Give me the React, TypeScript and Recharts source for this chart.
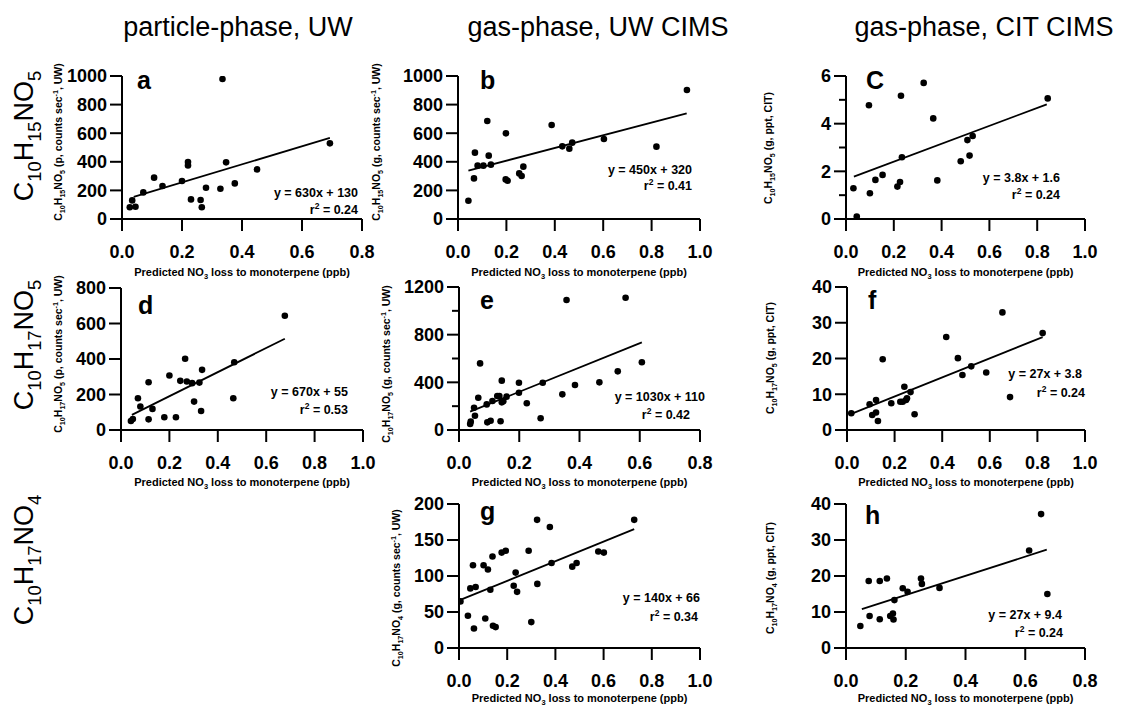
import React from 'react';
import { ScatterChart, Scatter, XAxis, YAxis, ReferenceLine } from 'recharts';

const FONT = '"Liberation Sans", Arial, Helvetica, sans-serif';

// ---------- data ----------
const pointsA = [
  { x: 0.026, y: 82 }, { x: 0.034, y: 130 }, { x: 0.045, y: 86 }, { x: 0.071, y: 186 },
  { x: 0.107, y: 289 }, { x: 0.135, y: 231 }, { x: 0.2, y: 266 }, { x: 0.22, y: 399 },
  { x: 0.22, y: 375 }, { x: 0.23, y: 137 }, { x: 0.262, y: 133 }, { x: 0.266, y: 82 },
  { x: 0.28, y: 219 }, { x: 0.328, y: 212 }, { x: 0.335, y: 979 }, { x: 0.347, y: 396 },
  { x: 0.376, y: 249 }, { x: 0.45, y: 347 }, { x: 0.693, y: 529 },
];
const fitA = [{ x: 0.039, y: 155 }, { x: 0.693, y: 567 }];

const pointsB = [
  { x: 0.043, y: 128 }, { x: 0.066, y: 284 }, { x: 0.07, y: 464 }, { x: 0.081, y: 373 },
  { x: 0.105, y: 373 }, { x: 0.121, y: 685 }, { x: 0.127, y: 443 }, { x: 0.136, y: 380 },
  { x: 0.198, y: 599 }, { x: 0.197, y: 277 }, { x: 0.205, y: 268 }, { x: 0.253, y: 319 },
  { x: 0.263, y: 301 }, { x: 0.27, y: 366 }, { x: 0.387, y: 657 }, { x: 0.431, y: 508 },
  { x: 0.46, y: 492 }, { x: 0.472, y: 534 }, { x: 0.603, y: 559 }, { x: 0.82, y: 506 },
  { x: 0.946, y: 902 },
];
const fitB = [{ x: 0.043, y: 338 }, { x: 0.945, y: 739 }];

const pointsC = [
  { x: 0.031, y: 1.29 }, { x: 0.045, y: 0.1 }, { x: 0.096, y: 4.77 }, { x: 0.1, y: 1.08 },
  { x: 0.123, y: 1.64 }, { x: 0.153, y: 1.85 }, { x: 0.215, y: 1.36 }, { x: 0.226, y: 1.55 },
  { x: 0.23, y: 5.17 }, { x: 0.234, y: 2.59 }, { x: 0.325, y: 5.71 }, { x: 0.365, y: 4.22 },
  { x: 0.382, y: 1.62 }, { x: 0.48, y: 2.42 }, { x: 0.508, y: 3.31 }, { x: 0.517, y: 2.66 },
  { x: 0.53, y: 3.48 }, { x: 0.844, y: 5.06 },
];
const fitC = [{ x: 0.033, y: 1.78 }, { x: 0.84, y: 4.81 }];

const pointsD = [
  { x: 0.041, y: 51 }, { x: 0.049, y: 62 }, { x: 0.07, y: 179 }, { x: 0.08, y: 132 },
  { x: 0.114, y: 60 }, { x: 0.114, y: 269 }, { x: 0.13, y: 119 }, { x: 0.179, y: 72 },
  { x: 0.2, y: 307 }, { x: 0.227, y: 72 }, { x: 0.245, y: 277 }, { x: 0.265, y: 401 },
  { x: 0.272, y: 273 }, { x: 0.294, y: 264 }, { x: 0.302, y: 160 }, { x: 0.324, y: 267 },
  { x: 0.331, y: 107 }, { x: 0.335, y: 339 }, { x: 0.464, y: 179 }, { x: 0.468, y: 382 },
  { x: 0.677, y: 644 },
];
const fitD = [{ x: 0.045, y: 85 }, { x: 0.677, y: 514 }];

const pointsE = [
  { x: 0.037, y: 50 }, { x: 0.039, y: 70 }, { x: 0.05, y: 187 }, { x: 0.053, y: 120 },
  { x: 0.064, y: 271 }, { x: 0.07, y: 559 }, { x: 0.092, y: 215 }, { x: 0.094, y: 64 },
  { x: 0.105, y: 78 }, { x: 0.111, y: 243 }, { x: 0.127, y: 285 }, { x: 0.134, y: 285 },
  { x: 0.138, y: 73 }, { x: 0.142, y: 414 }, { x: 0.142, y: 232 }, { x: 0.147, y: 242 },
  { x: 0.158, y: 280 }, { x: 0.199, y: 397 }, { x: 0.199, y: 313 }, { x: 0.225, y: 224 },
  { x: 0.271, y: 98 }, { x: 0.278, y: 397 }, { x: 0.343, y: 299 }, { x: 0.357, y: 1091 },
  { x: 0.385, y: 378 }, { x: 0.466, y: 400 }, { x: 0.527, y: 492 }, { x: 0.553, y: 1110 },
  { x: 0.607, y: 568 },
];
const fitE = [{ x: 0.037, y: 154 }, { x: 0.607, y: 736 }];

const pointsF = [
  { x: 0.018, y: 4.7 }, { x: 0.095, y: 7.2 }, { x: 0.106, y: 4.2 }, { x: 0.122, y: 8.4 },
  { x: 0.122, y: 4.9 }, { x: 0.13, y: 2.5 }, { x: 0.15, y: 19.8 }, { x: 0.186, y: 7.5 },
  { x: 0.224, y: 7.9 }, { x: 0.234, y: 7.9 }, { x: 0.241, y: 12.1 }, { x: 0.248, y: 8.4 },
  { x: 0.252, y: 8.9 }, { x: 0.267, y: 10.6 }, { x: 0.284, y: 4.4 }, { x: 0.417, y: 26.0 },
  { x: 0.466, y: 20.1 }, { x: 0.485, y: 15.4 }, { x: 0.522, y: 17.8 }, { x: 0.585, y: 16.1 },
  { x: 0.653, y: 32.9 }, { x: 0.685, y: 9.2 }, { x: 0.822, y: 27.1 },
];
const fitF = [{ x: 0.018, y: 4.5 }, { x: 0.822, y: 26 }];

const pointsG = [
  { x: 0.006, y: 64.7 }, { x: 0.037, y: 44.7 }, { x: 0.047, y: 82.8 }, { x: 0.058, y: 115 },
  { x: 0.062, y: 27 }, { x: 0.069, y: 84.7 }, { x: 0.102, y: 115 }, { x: 0.109, y: 41 },
  { x: 0.12, y: 109 }, { x: 0.13, y: 81 }, { x: 0.139, y: 127 }, { x: 0.141, y: 31 },
  { x: 0.152, y: 29 }, { x: 0.177, y: 132.5 }, { x: 0.194, y: 135 }, { x: 0.227, y: 86.5 },
  { x: 0.235, y: 104.7 }, { x: 0.241, y: 78 }, { x: 0.289, y: 135 }, { x: 0.3, y: 36 },
  { x: 0.324, y: 178 }, { x: 0.325, y: 89 }, { x: 0.377, y: 168 }, { x: 0.384, y: 118 },
  { x: 0.47, y: 113 }, { x: 0.488, y: 118 }, { x: 0.578, y: 134 }, { x: 0.601, y: 132.5 },
  { x: 0.727, y: 178 },
];
const fitG = [{ x: 0.003, y: 66.5 }, { x: 0.727, y: 165 }];

const pointsH = [
  { x: 0.048, y: 6.1 }, { x: 0.076, y: 18.6 }, { x: 0.079, y: 8.9 }, { x: 0.113, y: 18.6 },
  { x: 0.113, y: 8.0 }, { x: 0.137, y: 19.3 }, { x: 0.148, y: 8.9 }, { x: 0.157, y: 9.6 },
  { x: 0.159, y: 7.9 }, { x: 0.162, y: 13.3 }, { x: 0.19, y: 16.6 }, { x: 0.206, y: 15.6 },
  { x: 0.251, y: 19.3 }, { x: 0.254, y: 17.8 }, { x: 0.313, y: 16.7 }, { x: 0.613, y: 27.1 },
  { x: 0.653, y: 37.2 }, { x: 0.674, y: 15.0 },
];
const fitH = [{ x: 0.053, y: 10.8 }, { x: 0.672, y: 27.3 }];

const xTicks08 = [0, 0.2, 0.4, 0.6, 0.8];
const xTicks10 = [0, 0.2, 0.4, 0.6, 0.8, 1.0];
const yTicks1000 = [0, 200, 400, 600, 800, 1000];
const yTicks6 = [0, 1, 2, 3, 4, 5, 6];
const yMajor6 = [0, 2, 4, 6];
const yTicks800 = [0, 200, 400, 600, 800];
const yTicks1200 = [0, 200, 400, 600, 800, 1000, 1200];
const yMajor1200 = [0, 400, 800, 1200];
const yTicks40 = [0, 10, 20, 30, 40];
const yTicks200 = [0, 50, 100, 150, 200];

const columnTitles = ['particle-phase, UW', 'gas-phase, UW CIMS', 'gas-phase, CIT CIMS'];

type Seg = [string, number]; // 0 normal, 1 subscript, -1 superscript

const formula = (h: string, o: string): Seg[] => [
  ['C', 0], ['10', 1], ['H', 0], [h, 1], ['NO', 0], [o, 1],
];
const yLabel = (h: string, o: string, rest: string): Seg[] => {
  const f = formula(h, o);
  if (rest.includes('sec')) {
    const [pre, post] = rest.split('sec');
    return [...f, [' ' + pre + 'sec', 0], ['-1', -1], [post, 0]];
  }
  return [...f, [' ' + rest, 0]];
};

// ---------- layout ----------
interface Panel {
  id: string; L: number; R: number; T: number; B: number;
  xMax: number; xTicks: number[]; yMax: number; yTicks: number[]; yMajor: number[];
  points: { x: number; y: number }[]; fit: { x: number; y: number }[];
  letter: string; lx: number; ly: number;
  eq: string; eqX: number; eqY: number; r2: string; r2X: number; r2Y: number;
  ylab: Seg[]; ylx: number; yly: number;
}

const panels: Panel[] = [
  { id: 'a', L: 122, R: 362, T: 76, B: 219, xMax: 0.8, xTicks: xTicks08, yMax: 1000, yTicks: yTicks1000, yMajor: yTicks1000, points: pointsA, fit: fitA,
    letter: 'a', lx: 137, ly: 89, eq: 'y = 630x + 130', eqX: 358, eqY: 197, r2: '0.24', r2X: 358, r2Y: 214,
    ylab: yLabel('15', '5', '(p, counts sec, UW)'), ylx: 62, yly: 142 },
  { id: 'b', L: 458, R: 700, T: 76, B: 219, xMax: 1.0, xTicks: xTicks10, yMax: 1000, yTicks: yTicks1000, yMajor: yTicks1000, points: pointsB, fit: fitB,
    letter: 'b', lx: 480, ly: 89, eq: 'y = 450x + 320', eqX: 692, eqY: 174, r2: '0.41', r2X: 692, r2Y: 190,
    ylab: yLabel('15', '5', '(g, counts sec, UW)'), ylx: 380, yly: 142 },
  { id: 'c', L: 846, R: 1085, T: 76, B: 219, xMax: 1.0, xTicks: xTicks10, yMax: 6, yTicks: yTicks6, yMajor: yMajor6, points: pointsC, fit: fitC,
    letter: 'C', lx: 866, ly: 89, eq: 'y = 3.8x + 1.6', eqX: 1060, eqY: 182, r2: '0.24', r2X: 1060, r2Y: 199,
    ylab: yLabel('15', '5', '(g, ppt, CIT)'), ylx: 772, yly: 148 },
  { id: 'd', L: 121, R: 363, T: 288, B: 430, xMax: 1.0, xTicks: xTicks10, yMax: 800, yTicks: yTicks800, yMajor: yTicks800, points: pointsD, fit: fitD,
    letter: 'd', lx: 138, ly: 314, eq: 'y = 670x + 55', eqX: 348, eqY: 396, r2: '0.53', r2X: 348, r2Y: 414,
    ylab: yLabel('17', '5', '(p, counts sec, UW)'), ylx: 62, yly: 354 },
  { id: 'e', L: 459, R: 700, T: 287, B: 430, xMax: 0.8, xTicks: xTicks08, yMax: 1200, yTicks: yTicks1200, yMajor: yMajor1200, points: pointsE, fit: fitE,
    letter: 'e', lx: 480, ly: 309, eq: 'y = 1030x + 110', eqX: 705, eqY: 401, r2: '0.42', r2X: 690, r2Y: 419,
    ylab: yLabel('17', '5', '(g, counts sec, UW)'), ylx: 390, yly: 364 },
  { id: 'f', L: 847, R: 1085, T: 287, B: 430, xMax: 1.0, xTicks: xTicks10, yMax: 40, yTicks: yTicks40, yMajor: yTicks40, points: pointsF, fit: fitF,
    letter: 'f', lx: 868, ly: 309, eq: 'y = 27x + 3.8', eqX: 1082, eqY: 378, r2: '0.24', r2X: 1085, r2Y: 397,
    ylab: yLabel('17', '5', '(g, ppt, CIT)'), ylx: 774, yly: 358 },
  { id: 'g', L: 459, R: 700, T: 504, B: 648, xMax: 1.0, xTicks: xTicks10, yMax: 200, yTicks: yTicks200, yMajor: yTicks200, points: pointsG, fit: fitG,
    letter: 'g', lx: 480, ly: 520, eq: 'y = 140x + 66', eqX: 700, eqY: 602, r2: '0.34', r2X: 698, r2Y: 621,
    ylab: yLabel('17', '4', '(g, counts sec, UW)'), ylx: 400, yly: 588 },
  { id: 'h', L: 846, R: 1085, T: 504, B: 648, xMax: 0.8, xTicks: xTicks08, yMax: 40, yTicks: yTicks40, yMajor: yTicks40, points: pointsH, fit: fitH,
    letter: 'h', lx: 865, ly: 524, eq: 'y = 27x + 9.4', eqX: 1062, eqY: 619, r2: '0.24', r2X: 1063, r2Y: 637,
    ylab: yLabel('17', '4', '(g, ppt, CIT)'), ylx: 774, yly: 578 },
];

const rowLabels: { segs: Seg[]; y: number }[] = [
  { segs: formula('15', '5'), y: 136 },
  { segs: formula('17', '5'), y: 345 },
  { segs: formula('17', '4'), y: 560 },
];

const TICK_SIZE = 12;
const TICK_MARGIN = 3;
const Y_W = 100;
const X_H = 60;
const M_TOP = 10;
const M_RIGHT = 30;

// ---------- helpers ----------
function RichText(props: {
  x: number; y: number; segs: Seg[]; size: number; weight?: number | string;
  anchor?: 'start' | 'middle' | 'end'; rotate?: boolean;
}) {
  const { x, y, segs, size, weight = 'normal', anchor = 'start', rotate } = props;
  let cur = 0;
  const spans = segs.map(([t, k], i) => {
    const target = k === 1 ? size * 0.28 : k === -1 ? -size * 0.42 : 0;
    const dy = target - cur;
    cur = target;
    return (
      <tspan key={i} dy={dy} fontSize={k !== 0 ? size * 0.68 : size}>
        {t}
      </tspan>
    );
  });
  return (
    <text
      x={rotate ? 0 : x}
      y={rotate ? 0 : y}
      transform={rotate ? `translate(${x} ${y}) rotate(-90)` : undefined}
      textAnchor={anchor}
      fontFamily={FONT}
      fontSize={size}
      fontWeight={weight}
      fill="#000"
    >
      {spans}
    </text>
  );
}

const Dot = (props: any) => {
  const { cx, cy } = props;
  if (cx == null || cy == null) return <g />;
  return <circle cx={cx} cy={cy} r={3.3} fill="#000" />;
};

const makeYTick = (majors: number[]) => (props: any) => {
  const { x, y, payload } = props;
  const v = payload.value;
  const isMajor = majors.includes(v);
  const ax = x + TICK_MARGIN + TICK_SIZE;
  return (
    <g>
      <line x1={ax - (isMajor ? TICK_SIZE : 7)} x2={ax} y1={y} y2={y} stroke="#000" strokeWidth={2} />
      {isMajor && (
        <text x={x} y={y} dy="0.355em" textAnchor="end" fontSize={18} fontWeight={700} fontFamily={FONT} fill="#000">
          {v}
        </text>
      )}
    </g>
  );
};

function PanelChart({ p }: { p: Panel }) {
  const width = p.R - p.L + Y_W + M_RIGHT;
  const height = p.B - p.T + M_TOP + X_H;
  return (
    <div style={{ position: 'absolute', left: p.L - Y_W, top: p.T - M_TOP, width, height }}>
      <ScatterChart width={width} height={height} margin={{ top: M_TOP, right: M_RIGHT, bottom: 0, left: 0 }}>
        <XAxis
          type="number"
          dataKey="x"
          domain={[0, p.xMax]}
          ticks={p.xTicks}
          height={X_H}
          tickSize={TICK_SIZE}
          tickMargin={14}
          tickFormatter={(v: number) => v.toFixed(1)}
          axisLine={{ stroke: '#000', strokeWidth: 2 }}
          tickLine={{ stroke: '#000', strokeWidth: 2 }}
          tick={{ fill: '#000', fontSize: 18, fontWeight: 700, fontFamily: FONT }}
          allowDataOverflow
          interval={0}
        />
        <YAxis
          type="number"
          dataKey="y"
          domain={[0, p.yMax]}
          ticks={p.yTicks}
          width={Y_W}
          tickSize={TICK_SIZE}
          tickMargin={TICK_MARGIN}
          axisLine={{ stroke: '#000', strokeWidth: 2 }}
          tickLine={false}
          tick={makeYTick(p.yMajor)}
          allowDataOverflow
          interval={0}
        />
        <ReferenceLine
          segment={[p.fit[0], p.fit[1]]}
          stroke="#000"
          strokeWidth={1.8}
          ifOverflow="visible"
        />
        <Scatter data={p.points} shape={Dot} isAnimationActive={false} />
      </ScatterChart>
    </div>
  );
}

export default function App() {
  const titleX = [238, 598, 984];
  const xLabelY = [276, 486, 702];
  return (
    <div style={{ position: 'absolute', left: 0, top: 0, width: 1125, height: 706, background: '#fff', overflow: 'hidden' }}>
      {panels.map((p) => (
        <PanelChart key={p.id} p={p} />
      ))}
      <svg width={1125} height={706} style={{ position: 'absolute', left: 0, top: 0, pointerEvents: 'none' }}>
        {columnTitles.map((t, i) => (
          <text key={t} x={titleX[i]} y={36} textAnchor="middle" fontFamily={FONT} fontSize={27} fill="#000">
            {t}
          </text>
        ))}
        {rowLabels.map((r, i) => (
          <RichText key={i} x={33} y={r.y} segs={r.segs} size={27} anchor="middle" rotate />
        ))}
        {panels.map((p) => {
          const rowIdx = p.T < 200 ? 0 : p.T < 400 ? 1 : 2;
          const cx = (p.L + p.R) / 2;
          return (
            <g key={'t' + p.id}>
              <RichText x={p.ylx} y={p.yly} segs={p.ylab} size={10.5} weight={700} anchor="middle" rotate />
              <RichText
                x={cx}
                y={xLabelY[rowIdx]}
                segs={[['Predicted NO', 0], ['3', 1], [' loss to monoterpene (ppb)', 0]]}
                size={11}
                weight={700}
                anchor="middle"
              />
              <text x={p.lx} y={p.ly} fontFamily={FONT} fontSize={25} fontWeight={700} fill="#000">
                {p.letter}
              </text>
              <text x={p.eqX} y={p.eqY} textAnchor="end" fontFamily={FONT} fontSize={12.5} fontWeight={700} fill="#000">
                {p.eq}
              </text>
              <RichText
                x={p.r2X}
                y={p.r2Y}
                segs={[['r', 0], ['2', -1], [' = ' + p.r2, 0]]}
                size={12.5}
                weight={700}
                anchor="end"
              />
            </g>
          );
        })}
      </svg>
    </div>
  );
}
